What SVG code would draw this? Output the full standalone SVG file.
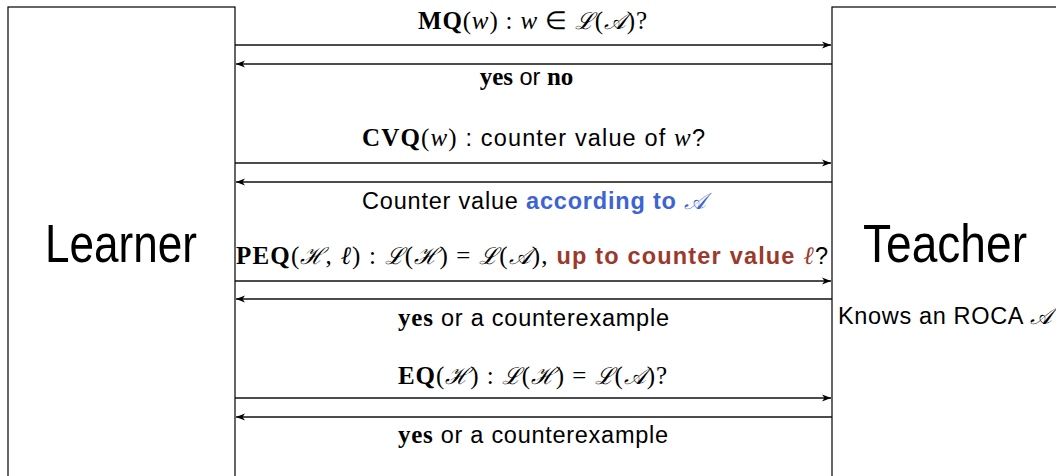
<svg xmlns="http://www.w3.org/2000/svg" width="1056" height="476" viewBox="0 0 1056 476">
<defs>
<marker id="ah" markerWidth="10" markerHeight="8" refX="9" refY="4" orient="auto" markerUnits="userSpaceOnUse">
<path d="M0,0.5 L9,4 L0,7.5 L2.5,4 Z" fill="#000"/>
</marker>
<style>
.box{fill:#fff;stroke:#000;stroke-width:1.2}
.arr{stroke:#111;stroke-width:1.4;fill:none;marker-end:url(#ah)}
.lbl{font-family:"Liberation Sans",sans-serif;font-size:23.5px;fill:#000}
.m{font-family:"Liberation Serif",serif;font-size:25px}
.mb{font-family:"Liberation Serif",serif;font-weight:bold;font-size:25px}
.mi{font-family:"Liberation Serif",serif;font-style:italic;font-size:25px}
.cal{font-family:"DejaVu Serif","Liberation Serif",serif;font-style:italic;font-size:23px}
.blue{fill:#3d64d3;font-weight:bold}
.red{fill:#9b3a2c;font-weight:bold}
.big{font-family:"Liberation Sans",sans-serif;font-size:54px}
</style>
</defs>
<g id="learner">
<rect class="box" x="8" y="7" width="227" height="480"/>
<text class="big" x="45" y="262" textLength="152" lengthAdjust="spacingAndGlyphs">Learner</text>
</g>
<g id="teacher">
<rect class="box" x="832" y="7" width="240" height="480"/>
<text class="big" x="863" y="262" textLength="164" lengthAdjust="spacingAndGlyphs">Teacher</text>
<text class="lbl" x="838" y="324" textLength="214" lengthAdjust="spacing">Knows an ROCA <tspan class="cal">𝒜</tspan></text>
</g>
<g id="connectors">
<line class="arr" x1="235" y1="45" x2="831" y2="45"/>
<line class="arr" x1="832" y1="64" x2="236" y2="64"/>
<line class="arr" x1="235" y1="163" x2="831" y2="163"/>
<line class="arr" x1="832" y1="182" x2="236" y2="182"/>
<line class="arr" x1="235" y1="281" x2="831" y2="281"/>
<line class="arr" x1="832" y1="299" x2="236" y2="299"/>
<line class="arr" x1="235" y1="398" x2="831" y2="398"/>
<line class="arr" x1="832" y1="417" x2="236" y2="417"/>
</g>
<g id="labels">
<text class="lbl" x="418" y="29" textLength="229" lengthAdjust="spacing"><tspan class="mb">MQ</tspan><tspan class="m">(</tspan><tspan class="mi">w</tspan><tspan class="m">) : </tspan><tspan class="mi">w</tspan><tspan class="m"> ∈ </tspan><tspan class="cal">ℒ</tspan><tspan class="m">(</tspan><tspan class="cal">𝒜</tspan><tspan class="m">)?</tspan></text>
<text class="lbl" x="526.5" y="85" text-anchor="middle"><tspan class="mb">yes</tspan> or <tspan class="mb">no</tspan></text>
<text class="lbl" x="362" y="146" textLength="343" lengthAdjust="spacing"><tspan class="mb">CVQ</tspan><tspan class="m">(</tspan><tspan class="mi">w</tspan><tspan class="m">)</tspan> : counter value of <tspan class="mi">w</tspan>?</text>
<text class="lbl" x="362" y="209" textLength="344" lengthAdjust="spacing">Counter value <tspan class="blue">according to </tspan><tspan class="cal" fill="#3d64d3">𝒜</tspan></text>
<text class="lbl" x="236" y="264" textLength="592" lengthAdjust="spacing"><tspan class="mb">PEQ</tspan><tspan class="m">(</tspan><tspan class="cal">ℋ</tspan><tspan class="m">, </tspan><tspan class="mi">ℓ</tspan><tspan class="m">) : </tspan><tspan class="cal">ℒ</tspan><tspan class="m">(</tspan><tspan class="cal">ℋ</tspan><tspan class="m">) = </tspan><tspan class="cal">ℒ</tspan><tspan class="m">(</tspan><tspan class="cal">𝒜</tspan><tspan class="m">),</tspan> <tspan class="red">up to counter value </tspan><tspan class="mi" fill="#9b3a2c">ℓ</tspan>?</text>
<text class="lbl" x="398" y="326" textLength="271" lengthAdjust="spacing"><tspan class="mb">yes</tspan> or a counterexample</text>
<text class="lbl" x="398" y="384" textLength="269" lengthAdjust="spacing"><tspan class="mb">EQ</tspan><tspan class="m">(</tspan><tspan class="cal">ℋ</tspan><tspan class="m">) : </tspan><tspan class="cal">ℒ</tspan><tspan class="m">(</tspan><tspan class="cal">ℋ</tspan><tspan class="m">) = </tspan><tspan class="cal">ℒ</tspan><tspan class="m">(</tspan><tspan class="cal">𝒜</tspan><tspan class="m">)?</tspan></text>
<text class="lbl" x="398" y="443" textLength="270" lengthAdjust="spacing"><tspan class="mb">yes</tspan> or a counterexample</text>
</g>
</svg>
